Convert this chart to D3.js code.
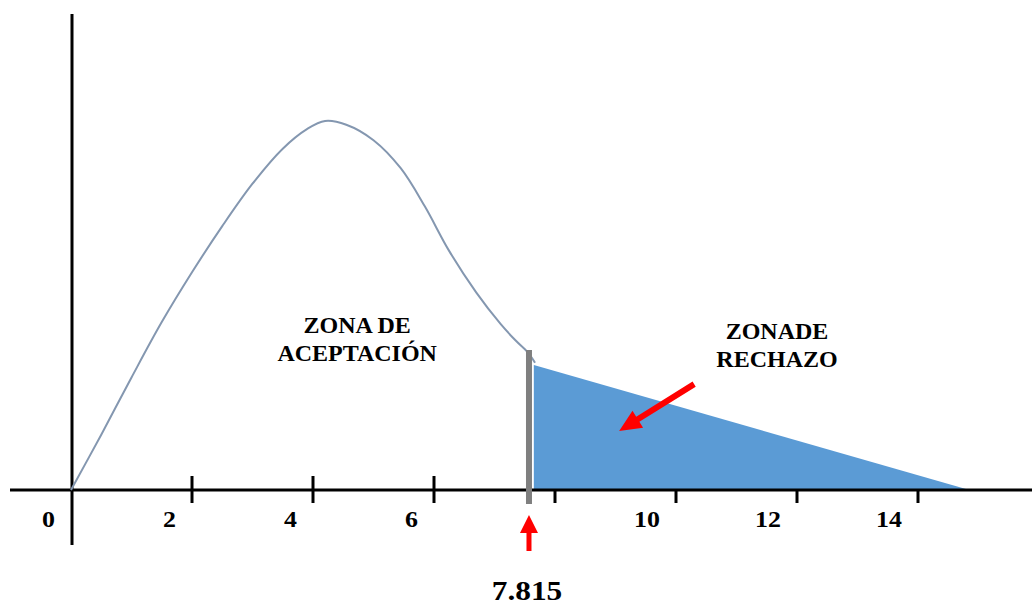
<!DOCTYPE html>
<html>
<head>
<meta charset="utf-8">
<script src="https://cdn.jsdelivr.net/npm/d3@7"></script>
<style>
  html, body { margin: 0; padding: 0; background: #fff; }
</style>
</head>
<body>
<svg id="chart" width="1032" height="605"></svg>
<script>
// ---- data ----
const curveX = [0, 0.5, 1, 1.5, 2, 2.5, 3, 3.5, 3.9, 4.2, 4.55, 5, 5.45, 5.85, 6.25, 6.7, 7.1, 7.35, 7.55, 7.67];
const curveY = [0, 0.15, 0.305, 0.455, 0.59, 0.715, 0.83, 0.925, 0.978, 1.0, 0.99, 0.948, 0.872, 0.768, 0.648, 0.535, 0.45, 0.405, 0.373, 0.345];
const rejectX = [7.65, 14.85];
const rejectY = [0.339, 0];
const tickValues = [2, 4, 6, 8, 10, 12, 14];
const tickLabels = ["0", "2", "4", "6", "10", "12", "14"];
const tickLabelValues = [0, 2, 4, 6, 10, 12, 14];
const criticalLabel = "7.815";
const criticalPos = 7.57;
const zoneAcceptLines = ["ZONA DE", "ACEPTACIÓN"];
const zoneRejectLines = ["ZONADE", "RECHAZO"];
const acceptLabelPos = [4.73, 0.425];
const rejectLabelPos = [11.67, 0.409];
const arrowTail = [10.3, 0.287];
const arrowTip = [9.06, 0.16];

const FONT = "'Liberation Serif', 'Times New Roman', 'DejaVu Serif', serif";

// ---- scales ----
const svg = d3.select("#chart");
const x = d3.scaleLinear().domain([0, 14]).range([71, 918]);
const y = d3.scaleLinear().domain([0, 1]).range([490, 121]);

// ticks (under the fill)
svg.append("g").selectAll("line").data(tickValues).join("line")
  .attr("x1", d => x(d)).attr("x2", d => x(d))
  .attr("y1", y(0) - 14).attr("y2", y(0) + 13)
  .attr("stroke", "#000").attr("stroke-width", 3);

// rejection area
const rejectPts = rejectX.map((v, i) => [v, rejectY[i]]);
svg.append("path")
  .datum(rejectPts)
  .attr("d", d3.area().x(d => x(d[0])).y0(y(0)).y1(d => y(d[1])))
  .attr("fill", "#5b9bd5");

// axes
svg.append("line")
  .attr("x1", 10).attr("x2", 1032)
  .attr("y1", y(0)).attr("y2", y(0))
  .attr("stroke", "#000").attr("stroke-width", 3);
svg.append("line")
  .attr("x1", x(0) + 1).attr("x2", x(0) + 1)
  .attr("y1", 14).attr("y2", 545)
  .attr("stroke", "#000").attr("stroke-width", 3);

// density curve
const curvePts = curveX.map((v, i) => [v, curveY[i]]);
svg.append("path")
  .datum(curvePts)
  .attr("d", d3.line().x(d => x(d[0])).y(d => y(d[1])).curve(d3.curveCatmullRom.alpha(0.5)))
  .attr("fill", "none")
  .attr("stroke", "#8497b0")
  .attr("stroke-width", 2);

// critical value line
svg.append("line")
  .attr("x1", x(criticalPos)).attr("x2", x(criticalPos))
  .attr("y1", 350).attr("y2", 504)
  .attr("stroke", "#7f7f7f").attr("stroke-width", 6);

// tick labels (right-aligned left of each tick)
svg.append("g").selectAll("text").data(tickLabelValues).join("text")
  .attr("transform", d => `translate(${x(d) - 16},${y(0) + 37}) scale(1.08,1)`)
  .attr("text-anchor", "end")
  .attr("font-family", FONT)
  .attr("font-weight", "bold")
  .attr("font-size", 24)
  .text((d, i) => tickLabels[i]);

// up arrow under critical line
const cx = x(criticalPos);
svg.append("path")
  .attr("d", `M${cx},515 L${cx + 9},533 L${cx + 2.5},533 L${cx + 2.5},551 L${cx - 2.5},551 L${cx - 2.5},533 L${cx - 9},533 Z`)
  .attr("fill", "#ff0000");

svg.append("text")
  .attr("transform", `translate(${cx - 2},600) scale(1.12,1)`)
  .attr("text-anchor", "middle")
  .attr("font-family", FONT)
  .attr("font-weight", "bold")
  .attr("font-size", 28)
  .text(criticalLabel);

// diagonal arrow
const tx = x(arrowTail[0]), ty = y(arrowTail[1]);
const hx = x(arrowTip[0]), hy = y(arrowTip[1]);
const ang = Math.atan2(hy - ty, hx - tx);
const len = Math.hypot(hx - tx, hy - ty);
const headL = 22, headW = 10, shaftW = 3;
const ga = svg.append("g").attr("transform", `translate(${tx},${ty}) rotate(${ang * 180 / Math.PI})`);
ga.append("path")
  .attr("d", `M0,${-shaftW} L${len - headL},${-shaftW} L${len - headL},${-headW} L${len},0 L${len - headL},${headW} L${len - headL},${shaftW} L0,${shaftW} Z`)
  .attr("fill", "#ff0000");

// zone labels
function zoneLabel(lines, pos, dy) {
  const g = svg.append("g");
  lines.forEach((t, i) => {
    g.append("text")
      .attr("x", x(pos[0]))
      .attr("y", y(pos[1]) + i * dy)
      .attr("text-anchor", "middle")
      .attr("font-family", FONT)
      .attr("font-weight", "bold")
      .attr("font-size", 24)
      .text(t);
  });
}
zoneLabel(zoneAcceptLines, acceptLabelPos, 28);
zoneLabel(zoneRejectLines, rejectLabelPos, 28);
</script>
</body>
</html>
